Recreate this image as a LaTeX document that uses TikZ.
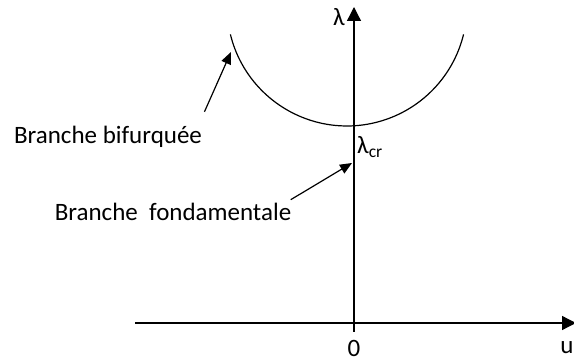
\documentclass[tikz,border=0pt]{standalone}
\usepackage{fontspec}
\setmainfont{Carlito}
\usetikzlibrary{arrows.meta}

\begin{document}
\begin{tikzpicture}[x=1pt,y=-1pt,font=\fontsize{25}{29}\selectfont,
  axe/.style={line width=1.3pt,-{Triangle[length=14pt,width=14pt]}},
  fleche/.style={line width=1.2pt,-{Triangle[length=12pt,width=10pt]}}]
\useasboundingbox (0,0) rectangle (574,363);
% axes
\coordinate (O) at (354,323);
\coordinate (ubas) at (354,332);
\coordinate (lhaut) at (354,7);
\coordinate (ugauche) at (135,323);
\coordinate (udroite) at (576,323);
\draw[axe](ugauche)--(udroite);
\draw[axe](ubas)--(lhaut);
% branche bifurquee
\draw[line width=1.2pt](230.4,34.4) arc[start angle=166.3,end angle=13.7,radius=120];
\coordinate (pbif) at (231,52);
\coordinate (pfond) at (352,163);
\node (lam) at (339,17) {λ};
\node (lamcr) at (370,147) {λ\textsubscript{cr}};
\node (zero) at (354,348) {0};
\node (u) at (567,348) {u};
\node (bif) at (108,137) {Branche bifurquée};
\node (fond) at (173,212) {Branche\ \ fondamentale};
\draw[fleche]([shift={(-1,-11)}]bif.north east)--(pbif);
\draw[fleche]([shift={(-4,0)}]fond.north east)--(pfond);
\end{tikzpicture}
\end{document}
